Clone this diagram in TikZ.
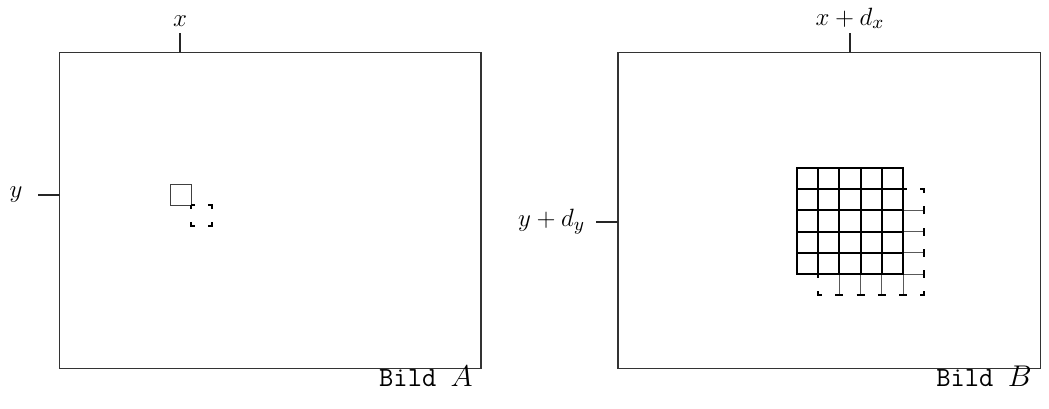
\documentclass[tikz,border=0pt]{standalone}
\usepackage{tikz}
\usetikzlibrary{calc}

\newcommand{\cellsz}{21.2}

\begin{document}
\begin{tikzpicture}[
    x={(0.48pt,0)}, y={(0,-0.48pt)},
    frame/.style={draw=black!80, line width=0.6pt},
    tick/.style={draw=black!85, line width=0.5pt},
    lab/.style={inner sep=0pt, font=\fontsize{12.5}{15}\selectfont},
    bild/.style={inner sep=0pt, anchor=base east, font=\fontsize{13.3}{16}\selectfont},
    cell/.style={draw=black!75, line width=0.45pt},
    dcell/.style={draw=black, line width=1pt, line cap=butt,
                  dash pattern=on 3.8pt off 6.376pt, dash phase=1.9pt},
    gline/.style={draw=black!65, line width=0.45pt},
    gthick/.style={draw=black, line width=0.9pt},
    gborder/.style={draw=black, line width=1.3pt},
]
\useasboundingbox (0,0) rectangle (1049,409);

% === Bild A ===
\draw[frame] (59.5,52.5) rectangle (481,368.5);
\coordinate (xA) at (180,52.5);
\coordinate (yA) at (59.5,195);
\draw[tick] (xA) -- ++(0,-19) node[lab, anchor=south, yshift=3pt] (labxA) {$x$};
\draw[tick] (yA) -- ++(-22,0) node[lab, anchor=east, xshift=-7pt] (labyA) {$y$};
\node[bild] (bildA) at (473,387) {\texttt{Bild }$A$};

% block and its shifted copy
\coordinate (pA) at (170,184);
\coordinate (qA) at ($(pA)+(\cellsz,\cellsz)$);
\draw[cell] (pA) rectangle ++(\cellsz,\cellsz);
\draw[dcell] (qA) rectangle ++(\cellsz,\cellsz);

% === Bild B ===
\draw[frame] (618,52.5) rectangle (1040.5,368.5);
\coordinate (xB) at (850,52.5);
\coordinate (yB) at (618,222);
\draw[tick] (xB) -- ++(0,-19) node[lab, anchor=south, yshift=2pt] (labxB) {$x+d_x$};
\draw[tick] (yB) -- ++(-22,0) node[lab, anchor=east, xshift=-5pt] (labyB) {$y+d_y$};
\node[bild] (bildB) at (1032,387) {\texttt{Bild }$B$};

% shifted search grid (thin lines)
\coordinate (pB) at (797,168);
\coordinate (qB) at ($(pB)+(\cellsz,\cellsz)$);
\foreach \k in {1,...,4} {
    \draw[gline] ($(qB)+(\k*\cellsz,0)$) -- ++(0,5*\cellsz);
    \draw[gline] ($(qB)+(0,\k*\cellsz)$) -- ++(5*\cellsz,0);
}

% block grid
\foreach \k in {1,...,4} {
    \draw[gthick] ($(pB)+(\k*\cellsz,0)$) -- ++(0,5*\cellsz);
    \draw[gthick] ($(pB)+(0,\k*\cellsz)$) -- ++(5*\cellsz,0);
}
\draw[gborder] (pB) rectangle ++(5*\cellsz,5*\cellsz);

% dashed outline of the shifted grid
\draw[dcell] (qB) rectangle ++(5*\cellsz,5*\cellsz);

\end{tikzpicture}
\end{document}
